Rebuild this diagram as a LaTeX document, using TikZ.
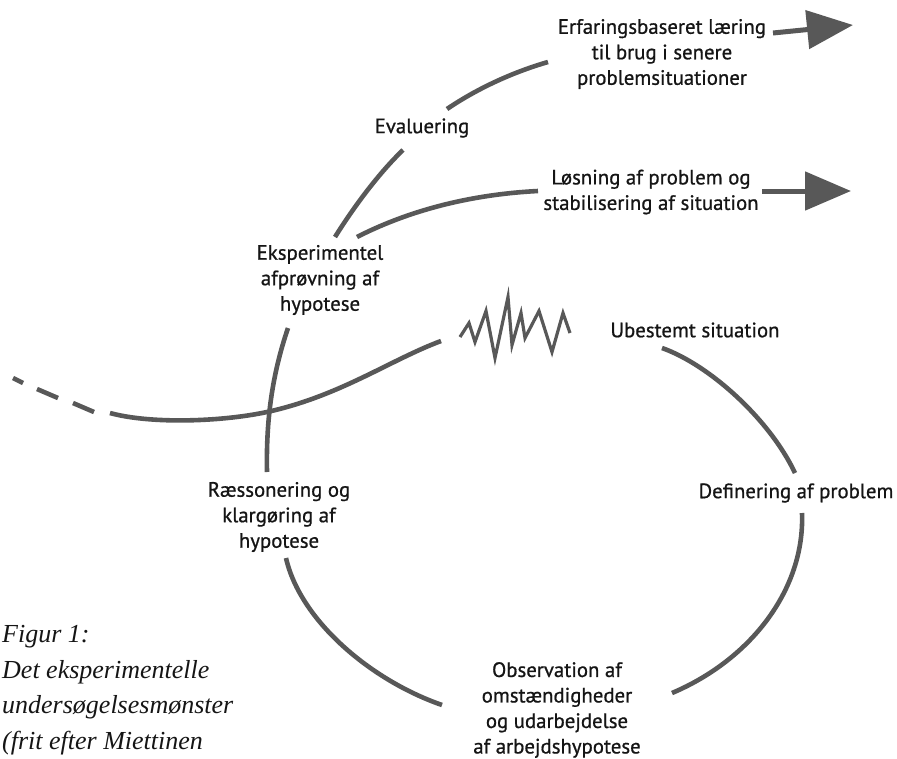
\documentclass[tikz,border=0pt]{standalone}
\usepackage{fontspec}
\newfontfamily\labfont[FakeBold=0.8]{PT Sans}
\newfontfamily\capfont{Liberation Serif}
\usetikzlibrary{arrows.meta}
\definecolor{linegray}{HTML}{585858}
\definecolor{txt}{HTML}{151515}
\begin{document}
\begin{tikzpicture}[x=1pt,y=-1pt,
  lab/.style={align=center,inner sep=0pt,text=txt,font=\labfont\fontsize{20.8}{25.5}\selectfont},
  curve/.style={draw=linegray,line width=4.6pt},
  arr/.style={draw=linegray,line width=5pt,-{Triangle[length=46pt,width=38pt]}},
  zig/.style={draw=linegray,line width=3.2pt,line join=miter}]
\useasboundingbox (0,0) rectangle (897,758);
% labels
\node[lab] (erf) at (662,54) {Erfaringsbaseret læring\\til brug i senere\\problemsituationer};
\node[lab] (eval) at (422,128) {Evaluering};
\node[lab] (los) at (651,192) {Løsning af problem og\\stabilisering af situation};
\node[lab] (eksp) at (320,280) {Eksperimentel\\afprøvning af\\hypotese};
\node[lab] (ube) at (695,330) {Ubestemt situation};
\node[lab] (def) at (796,493) {Definering af problem};
\node[lab] (obs) at (557,710) {Observation af\\omstændigheder\\og udarbejdelse\\af arbejdshypotese};
\node[lab] (rae) at (279,517) {Ræssonering og\\klargøring af\\hypotese};
\node[align=left,anchor=west,inner sep=0pt,text=txt,font=\capfont\fontsize{26}{35.5}\selectfont\itshape] (cap) at (2,690)
  {Figur 1:\\Det eksperimentelle\\undersøgelsesmønster\\(frit efter Miettinen};
% coordinates
\coordinate (a1) at (335,237); \coordinate (a2) at (403,150);
\coordinate (b1) at (447,109); \coordinate (b2) at (548,62);
\coordinate (c1) at (357,237); \coordinate (c2) at (538,191);
\coordinate (d1) at (288,328); \coordinate (d2) at (267,472);
\coordinate (e1) at (110,413); \coordinate (ex) at (267,412); \coordinate (e2) at (441,341);
\coordinate (f1) at (662,348); \coordinate (f2) at (795,473);
\coordinate (g1) at (802,513); \coordinate (g2) at (672,693);
\coordinate (h1) at (286,558); \coordinate (h2) at (442,705);
\coordinate (t1) at (773,33); \coordinate (t2) at (853,25);
\coordinate (u1) at (762,191); \coordinate (u2) at (851,191);
% curves
\draw[curve] (a1) .. controls (355,205) and (380,172) .. (a2);
\draw[curve] (b1) .. controls (475,90) and (510,73) .. (b2);
\draw[curve] (c1) .. controls (400,215) and (460,195) .. (c2);
\draw[curve] (d1) .. controls (272,375) and (266,420) .. (d2);
\draw[curve] (e1) .. controls (150,424) and (220,422) .. (ex) .. controls (340,396) and (390,360) .. (e2);
\draw[curve] (13,378) -- (23,383);
\draw[curve] (37,389) -- (58,398);
\draw[curve] (73,403) -- (94,412);
\draw[curve] (f1) .. controls (710,365) and (770,420) .. (f2);
\draw[curve] (g1) .. controls (805,590) and (750,660) .. (g2);
\draw[curve] (h1) .. controls (300,620) and (370,680) .. (h2);
% zigzag
\draw[zig] (460,337) -- (469,323) -- (475,342) -- (486,311) -- (495,358) -- (508,297) -- (512,345) -- (521,313) -- (525,338) -- (539,311) -- (552,352) -- (563,313) -- (570,333);
% arrows
\draw[arr] (t1) -- (t2);
\draw[arr] (u1) -- (u2);
\end{tikzpicture}
\end{document}
